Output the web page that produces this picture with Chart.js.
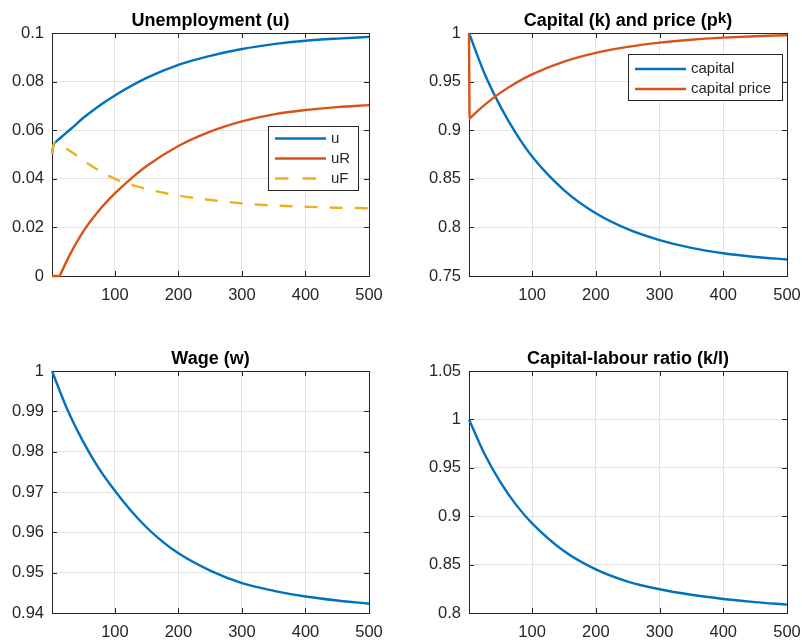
<!DOCTYPE html>
<html>
<head>
<meta charset="utf-8">
<script src="https://cdn.jsdelivr.net/npm/chart.js@4.4.1/dist/chart.umd.min.js"></script>
<style>
  html, body { margin: 0; padding: 0; background: #fff; }
  #fig { position: relative; width: 802px; height: 643px; overflow: hidden; }
  canvas { position: absolute; }
</style>
</head>
<body>
<div id="fig">
  <canvas id="cU" width="401" height="321" style="left:0;top:0"></canvas>
  <canvas id="cK" width="401" height="321" style="left:401px;top:0"></canvas>
  <canvas id="cW" width="401" height="322" style="left:0;top:321px"></canvas>
  <canvas id="cKL" width="401" height="322" style="left:401px;top:321px"></canvas>
</div>
<script>
// --- data (time steps 1..500) ---
const X_TICKS = [100, 200, 300, 400, 500];

const T_U = [1, 3, 6, 15, 31, 50, 75, 100, 150, 200, 250, 300, 350, 400, 450, 500];
const U   = [0.0501, 0.0535, 0.0549, 0.0570, 0.0606, 0.0650, 0.0700, 0.0743, 0.0815, 0.0869, 0.0906, 0.0934, 0.0954, 0.0968, 0.0977, 0.0984];

const T_UR = [1, 13, 15, 29, 50, 76, 100, 125, 150, 200, 250, 300, 350, 400, 450, 500];
const UR   = [0, 0, 0.0011, 0.0087, 0.0183, 0.0273, 0.0340, 0.0400, 0.0453, 0.0535, 0.0594, 0.0636, 0.0665, 0.0683, 0.0695, 0.0703];

const T_UF = [1, 3, 6, 12, 21, 37, 55, 73, 92, 113, 150, 200, 250, 300, 350, 400, 450, 500];
const UF   = [0.0501, 0.0535, 0.0549, 0.0543, 0.0529, 0.0501, 0.0467, 0.0437, 0.0410, 0.0386, 0.0358, 0.0331, 0.0313, 0.0299, 0.0290, 0.0285, 0.0281, 0.0279];
const U_TICKS = [0, 0.02, 0.04, 0.06, 0.08, 0.1];

const T_K = [1, 25, 50, 75, 100, 150, 200, 250, 300, 350, 400, 450, 500];
const CAPITAL = [1.0, 0.9589, 0.9248, 0.8965, 0.873, 0.8384, 0.8145, 0.7982, 0.787, 0.7789, 0.7734, 0.7696, 0.767];

const T_PK = [1, 2, 4, 25, 50, 75, 100, 150, 200, 250, 300, 350, 400, 450, 500];
const PRICE = [1.0, 0.912, 0.9133, 0.9258, 0.9384, 0.9489, 0.9575, 0.9705, 0.9795, 0.9857, 0.9901, 0.9931, 0.9952, 0.9967, 0.9977];
const K_TICKS = [0.75, 0.8, 0.85, 0.9, 0.95, 1];

const T_W = [1, 25, 50, 75, 100, 125, 150, 175, 200, 250, 300, 350, 400, 450, 500];
const WAGE = [1.0, 0.9905, 0.9825, 0.9758, 0.9703, 0.9654, 0.9612, 0.9577, 0.9548, 0.9505, 0.9474, 0.9455, 0.9441, 0.9431, 0.9423];
const W_TICKS = [0.94, 0.95, 0.96, 0.97, 0.98, 0.99, 1];

const T_KL = [1, 25, 50, 75, 100, 150, 200, 250, 300, 350, 400, 450, 500];
const KL = [1.0, 0.9648, 0.9355, 0.9117, 0.8926, 0.864, 0.845, 0.8325, 0.8245, 0.8188, 0.8145, 0.8112, 0.8087];
const KL_TICKS = [0.8, 0.85, 0.9, 0.95, 1, 1.05];

// MATLAB default colours
const BLUE = '#0072BD', ORANGE = '#D95319', YELLOW = '#EDB120';
const FONT = "'Liberation Sans', Arial, Helvetica, sans-serif";
const AXIS_COLOR = '#262626';
const LW = 2.4;

const pts = (xs, ys) => xs.map((x, i) => ({ x: x, y: ys[i] }));

// box + inward ticks like matlab axes, drawn under the lines
const framePlugin = {
    id: 'frame',
    beforeDatasetsDraw(chart) {
        const { ctx, chartArea: a } = chart;
        const xs = chart.scales.x, ys = chart.scales.y;
        ctx.save();
        ctx.strokeStyle = AXIS_COLOR;
        ctx.lineWidth = 1;
        ctx.beginPath();
        xs.ticks.forEach(t => {
            const px = Math.round(xs.getPixelForValue(t.value)) + 0.5;
            ctx.moveTo(px, a.bottom); ctx.lineTo(px, a.bottom - 5);
            ctx.moveTo(px, a.top); ctx.lineTo(px, a.top + 5);
        });
        ys.ticks.forEach(t => {
            const py = Math.round(ys.getPixelForValue(t.value)) + 0.5;
            ctx.moveTo(a.left, py); ctx.lineTo(a.left + 5, py);
            ctx.moveTo(a.right, py); ctx.lineTo(a.right - 5, py);
        });
        ctx.stroke();
        ctx.strokeRect(Math.round(a.left) + 0.5, Math.round(a.top) + 0.5,
                       Math.round(a.right - a.left), Math.round(a.bottom - a.top));
        ctx.restore();
    }
};

// title with optional superscript piece
const titlePlugin = {
    id: 'mtitle',
    afterDraw(chart, args, opts) {
        const { ctx, chartArea: a } = chart;
        const main = 'bold 18px ' + FONT, sup = 'bold 15.5px ' + FONT;
        ctx.save();
        ctx.fillStyle = '#000';
        ctx.textBaseline = 'alphabetic';
        let total = 0;
        opts.parts.forEach(p => { ctx.font = p.sup ? sup : main; total += ctx.measureText(p.text).width; });
        let x = (a.left + a.right) / 2 - total / 2;
        const y = a.top - 7;
        opts.parts.forEach(p => {
            ctx.font = p.sup ? sup : main;
            ctx.fillText(p.text, x, p.sup ? y - 3.5 : y);
            x += ctx.measureText(p.text).width;
        });
        ctx.restore();
    }
};

// boxed legend placed inside the axes
const legendPlugin = {
    id: 'boxLegend',
    afterDraw(chart, args, opts) {
        if (!opts.show) return;
        const { ctx } = chart;
        ctx.save();
        ctx.fillStyle = '#fff';
        ctx.fillRect(opts.x, opts.y, opts.w, opts.h);
        ctx.strokeStyle = AXIS_COLOR;
        ctx.lineWidth = 1;
        ctx.strokeRect(opts.x + 0.5, opts.y + 0.5, opts.w, opts.h);
        ctx.font = '15px ' + FONT;
        ctx.textBaseline = 'middle';
        chart.data.datasets.forEach((ds, i) => {
            const y = opts.y + opts.first + i * opts.gap;
            ctx.strokeStyle = ds.borderColor;
            ctx.lineWidth = ds.borderWidth;
            ctx.setLineDash(ds.borderDash ? [13.5, 14] : []);
            ctx.beginPath();
            ctx.moveTo(opts.x + 7, y);
            ctx.lineTo(opts.x + 58, y);
            ctx.stroke();
            ctx.setLineDash([]);
            ctx.fillStyle = AXIS_COLOR;
            ctx.fillText(ds.label, opts.x + 63, y);
        });
        ctx.restore();
    }
};

function makeChart(id, datasets, yTicks, layout, title, legend) {
    const tickFont = { family: FONT, size: 16.5 };
    return new Chart(document.getElementById(id), {
        type: 'line',
        data: { datasets: datasets },
        options: {
            responsive: false,
            animation: false,
            devicePixelRatio: 1,
            clip: 3, // let the full line width show on the axes edges
            layout: { padding: { top: layout.top, right: layout.right, left: 0, bottom: 0 } },
            elements: { point: { radius: 0 }, line: { cubicInterpolationMode: 'monotone' } },
            plugins: {
                legend: { display: false },
                tooltip: { enabled: false },
                mtitle: { parts: title },
                boxLegend: legend || { show: false }
            },
            scales: {
                x: {
                    type: 'linear', min: 1, max: 500,
                    afterBuildTicks: s => { s.ticks = X_TICKS.map(v => ({ value: v })); },
                    afterFit: s => { s.height = layout.xh; s.paddingLeft = 0; s.paddingRight = 0; },
                    ticks: { font: tickFont, color: AXIS_COLOR, padding: 10, maxRotation: 0, autoSkip: false },
                    grid: { color: '#e3e3e3', drawTicks: false },
                    border: { display: false }
                },
                y: {
                    min: yTicks[0], max: yTicks[yTicks.length - 1],
                    afterBuildTicks: s => { s.ticks = yTicks.map(v => ({ value: v })); },
                    afterFit: s => { s.width = layout.yw; s.paddingTop = 0; s.paddingBottom = 0; },
                    ticks: { font: tickFont, color: AXIS_COLOR, padding: 8, callback: v => String(v) },
                    grid: { color: '#e3e3e3', drawTicks: false },
                    border: { display: false }
                }
            }
        },
        plugins: [framePlugin, titlePlugin, legendPlugin]
    });
}

// order: higher number is drawn first, so later series sit on top like in matlab
makeChart('cU', [
    { label: 'u', data: pts(T_U, U), borderColor: BLUE, borderWidth: LW, order: 3 },
    { label: 'uR', data: pts(T_UR, UR), borderColor: ORANGE, borderWidth: LW, order: 2 },
    { label: 'uF', data: pts(T_UF, UF), borderColor: YELLOW, borderWidth: LW, borderDash: [13, 12], order: 1 }
], U_TICKS, { top: 33, right: 32, yw: 52, xh: 45 },
   [{ text: 'Unemployment (u)' }],
   { show: true, x: 268, y: 126, w: 90, h: 64, first: 12.5, gap: 20 });

makeChart('cK', [
    { label: 'capital', data: pts(T_K, CAPITAL), borderColor: BLUE, borderWidth: LW, order: 2 },
    { label: 'capital price', data: pts(T_PK, PRICE), borderColor: ORANGE, borderWidth: LW, order: 1 }
], K_TICKS, { top: 33, right: 15, yw: 68, xh: 45 },
   [{ text: 'Capital (k) and price (p' }, { text: 'k', sup: true }, { text: ')' }],
   { show: true, x: 227, y: 54, w: 154, h: 46, first: 15, gap: 20 });

makeChart('cW', [
    { label: 'w', data: pts(T_W, WAGE), borderColor: BLUE, borderWidth: LW }
], W_TICKS, { top: 50, right: 32, yw: 52, xh: 30 },
   [{ text: 'Wage (w)' }]);

makeChart('cKL', [
    { label: 'k/l', data: pts(T_KL, KL), borderColor: BLUE, borderWidth: LW }
], KL_TICKS, { top: 50, right: 15, yw: 68, xh: 30 },
   [{ text: 'Capital-labour ratio (k/l)' }]);
</script>
</body>
</html>
